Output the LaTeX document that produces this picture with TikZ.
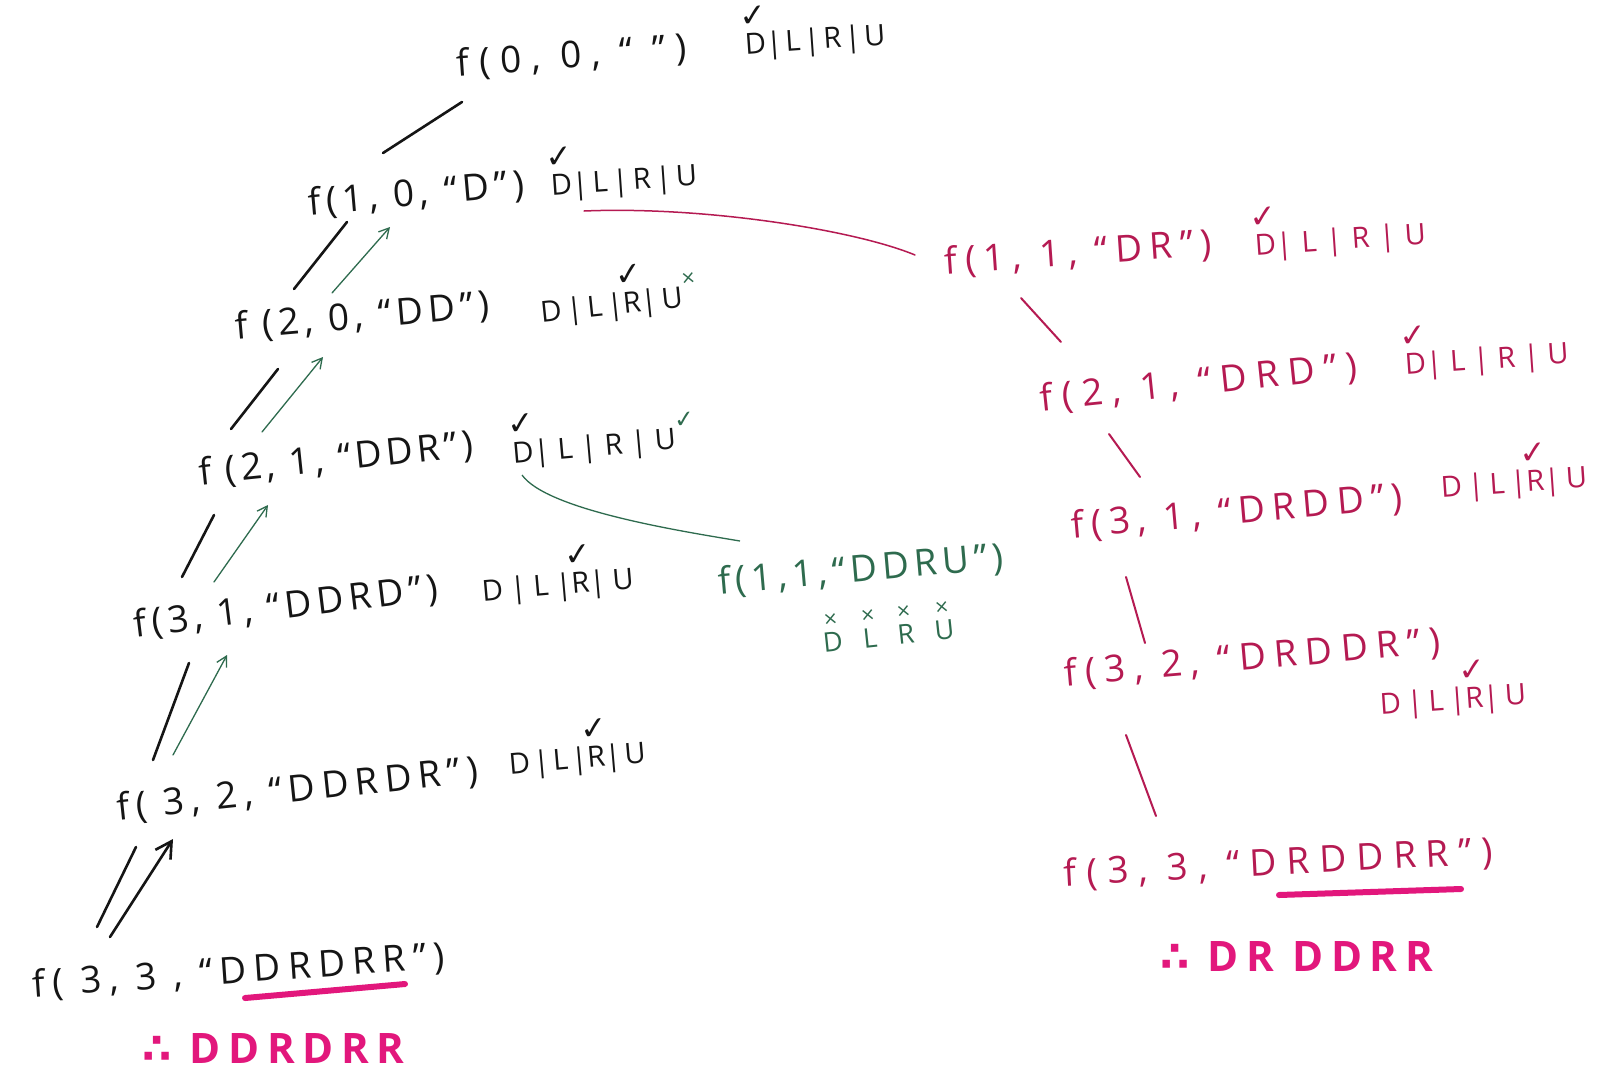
\documentclass[tikz,border=0pt]{standalone}
\usepackage{fontspec}
\setmainfont{Open Sans}
\newfontfamily\symf{DejaVu Sans}
\usetikzlibrary{arrows.meta}
\definecolor{ink}{HTML}{151515}
\definecolor{grn}{HTML}{2E6B4E}
\definecolor{crim}{HTML}{B51A52}
\definecolor{mag}{HTML}{E2177C}
\newcommand\chk[2][ink]{\ooalign{#2\cr\hidewidth\raisebox{0.95em}{\textcolor{#1}{\symf\fontsize{32}{32}\selectfont ✓}}\hidewidth\cr}}
\newcommand\xmk[1]{\ooalign{#1\cr\hidewidth\raisebox{1.0em}{\symf\fontsize{18}{18}\selectfont ×}\hidewidth\cr}}
\tikzset{
  fn/.style={anchor=west, inner sep=0pt, font=\fontsize{37}{44}\selectfont\addfontfeature{LetterSpace=#1}},
  fn/.default=20,
  opt/.style={anchor=west, inner sep=0pt, font=\fontsize{29}{34}\selectfont\addfontfeature{LetterSpace=#1}},
  opt/.default=15,
  ans/.style={anchor=west, inner sep=0pt, text=mag, font=\bfseries\fontsize{42}{48}\selectfont\addfontfeature{LetterSpace=18}},
  blk/.style={draw=ink, line width=2.6pt, line cap=round},
  garr/.style={draw=grn, line width=1.3pt, line cap=round, -{Straight Barb[length=10pt,width=11pt]}},
  barr/.style={draw=ink, line width=2.6pt, line cap=round, -{Straight Barb[length=16pt,width=18pt,line width=2.6pt]}},
  pln/.style={draw=crim, line width=2pt, line cap=round},
  under/.style={draw=mag, line width=6pt, line cap=round},
}
\begin{document}
\begin{tikzpicture}[x=1pt,y=-1pt]
\useasboundingbox[fill=white] (0,0) rectangle (1600,1077);
% left tree
\node[fn=27, text=ink, rotate=4] (n0) at (457,65) {f(0, 0, “ ”)};
\node[opt=12, text=ink, rotate=4] (o0) at (745,47) {\chk{D}|L|R|U};
\node[fn=15, text=ink, rotate=5] (n1) at (308,204) {f(1, 0, “D”)};
\node[opt=16, text=ink, rotate=4] (o1) at (551,188) {\chk{D}|L|R|U};
\node[fn=14, text=ink, rotate=5] (n2) at (235,328) {f (2, 0, “DD”)};
\node[opt=17, text=ink, rotate=6] (o2) at (540,309) {D|L|\chk{R}|U\rlap{\raisebox{0.8em}{\textcolor{grn}{\symf\fontsize{18}{18}\selectfont ×}}}};
\node[fn=12, text=ink, rotate=6] (n3) at (199,474) {f (2, 1, “DDR”)};
\node[opt=28, text=ink, rotate=5] (o3) at (512,449) {\chk{D}|L|R|U\rlap{\raisebox{0.7em}{\textcolor{grn}{\symf\fontsize{24}{24}\selectfont ✓}}}};
\node[fn=14, text=ink, rotate=7] (n4) at (134,626) {f(3, 1, “DDRD”)};
\node[opt=25, text=ink, rotate=5] (o4) at (482,594) {D|L|\chk{R}|U};
\node[fn=18, text=ink, rotate=6] (n5) at (117,809) {f( 3, 2, “DDRDR”)};
\node[opt=12, text=ink, rotate=5] (o5) at (509,767) {D|L|\chk{R}|U};
\node[fn=20, text=ink, rotate=4] (n6) at (33,986) {f( 3, 3 , “DDRDRR”)};
\node[ans] (a1) at (142,1048) {{\symf ∴} DDRDRR};
\draw[under] ([shift={(212,12)}]n6.west) -- ([shift={(372,-2)}]n6.west);
% left connectors
\draw[blk] ([shift={(5,37)}]n0.west) -- ([shift={(75,-51)}]n1.west);
\draw[blk] ([shift={(39,18)}]n1.west) -- ([shift={(59,-39)}]n2.west);
\draw[garr] ([shift={(97,-35)}]n2.west) -- ([shift={(82,23)}]n1.west);
\draw[blk] ([shift={(43,41)}]n2.west) -- ([shift={(32,-45)}]n3.west);
\draw[garr] ([shift={(63,-42)}]n3.west) -- ([shift={(88,29)}]n2.west);
\draw[blk] ([shift={(15,41)}]n3.west) -- ([shift={(48,-49)}]n4.west);
\draw[garr] ([shift={(80,-44)}]n4.west) -- ([shift={(69,31)}]n3.west);
\draw[blk] ([shift={(55,37)}]n4.west) -- ([shift={(36,-49)}]n5.west);
\draw[garr] ([shift={(56,-54)}]n5.west) -- ([shift={(93,29)}]n4.west);
\draw[blk] ([shift={(19,38)}]n5.west) -- ([shift={(64,-59)}]n6.west);
\draw[barr] ([shift={(77,-49)}]n6.west) -- ([shift={(56,30)}]n5.west);
% green branch
\node[fn=14, text=grn, rotate=5] (g) at (718,583) {f(1,1,“DDRU”)};
\node[anchor=west, inner sep=0pt, text=grn, rotate=6, font=\fontsize{27}{32}\selectfont\addfontfeature{LetterSpace=50}] (gx) at (823,643) {\xmk{D} \xmk{L} \xmk{R} \xmk{U}};
\draw[draw=grn, line width=1.3pt] ([shift={(10,26)}]o3.west) .. controls +(25,35) and +(-60,-10) .. ([shift={(22,-42)}]g.west);
% pink branch
\node[fn=21, text=crim, rotate=4] (p1) at (945,263) {f(1, 1, “DR”)};
\node[opt=33, text=crim, rotate=4] (p1o) at (1255,248) {\chk[crim]{D}|L|R|U};
\draw[pln, line width=1.5pt] ([shift={(33,23)}]o1.west) .. controls +(120,-5) and +(-60,-25) .. ([shift={(-30,-8)}]p1.west);
\node[fn=25, text=crim, rotate=6] (p2) at (1040,400) {f(2, 1, “DRD”)};
\node[opt=28, text=crim, rotate=4] (p2o) at (1405,367) {\chk[crim]{D}|L|R|U};
\node[fn=20, text=crim, rotate=5] (p3) at (1071,527) {f(3, 1, “DRDD”)};
\node[opt=20, text=crim, rotate=4] (p3o) at (1441,490) {D|L|\chk[crim]{R}|U};
\node[fn=23, text=crim, rotate=5] (p4) at (1064,675) {f(3, 2, “DRDDR”)};
\node[opt=20, text=crim, rotate=4] (p4o) at (1380,707) {D|L|\chk[crim]{R}|U};
\node[fn=27, text=crim, rotate=3] (p5) at (1064,875) {f(3, 3, “DRDDRR”)};
\node[ans] (a2) at (1160,956) {{\symf ∴} DR DDRR};
\draw[under] ([shift={(215,20)}]p5.west) -- ([shift={(397,14)}]p5.west);
\draw[pln] ([shift={(76,35)}]p1.west) -- ([shift={(21,-58)}]p2.west);
\draw[pln] ([shift={(69,34)}]p2.west) -- ([shift={(69,-50)}]p3.west);
\draw[pln] ([shift={(55,50)}]p3.west) -- ([shift={(81,-32)}]p4.west);
\draw[pln] ([shift={(62,60)}]p4.west) -- ([shift={(92,-59)}]p5.west);
\end{tikzpicture}
\end{document}
